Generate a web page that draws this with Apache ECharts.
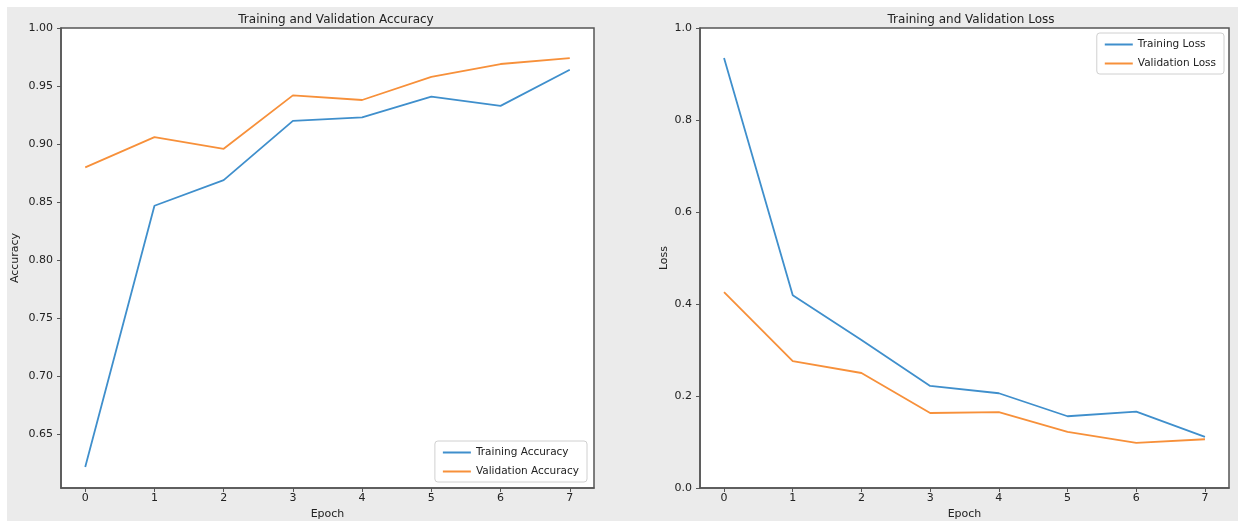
<!DOCTYPE html>
<html>
<head>
<meta charset="utf-8">
<script src="https://cdn.jsdelivr.net/npm/echarts@6/dist/echarts.min.js"></script>
<style>
    html, body { margin: 0; padding: 0; background: #ffffff; }
    #chart { position: absolute; left: 7px; top: 7px; width: 1231px; height: 514px; background: #ebebeb; }
</style>
</head>
<body>
<div id="chart"></div>
<script>
const epochs = [0, 1, 2, 3, 4, 5, 6, 7];
const trainAcc = [0.622, 0.847, 0.869, 0.920, 0.923, 0.941, 0.933, 0.964];
const valAcc = [0.880, 0.906, 0.896, 0.942, 0.938, 0.958, 0.969, 0.974];
const trainLoss = [0.935, 0.419, 0.322, 0.222, 0.206, 0.156, 0.166, 0.111];
const valLoss = [0.426, 0.276, 0.250, 0.163, 0.165, 0.122, 0.098, 0.106];
const accTicks = [0.65, 0.70, 0.75, 0.80, 0.85, 0.90, 0.95, 1.00];
const lossTicks = [0.0, 0.2, 0.4, 0.6, 0.8, 1.0];

const blue = '#3f8fcc';
const orange = '#f7903a';
const axisColor = '#555555';
const textColor = '#222222';
const font = 'DejaVu Sans';

function pairs(xs, ys) {
    return xs.map((x, i) => [x, ys[i]]);
}

function xAxisOf(gridIndex) {
    return {
        type: 'value',
        gridIndex: gridIndex,
        min: -0.35,
        max: 7.35,
        name: 'Epoch',
        nameLocation: 'middle',
        nameGap: 20,
        nameTextStyle: { fontFamily: font, fontSize: 11, color: textColor },
        axisLine: { show: true, onZero: false, lineStyle: { color: axisColor, width: 1.5 } },
        axisTick: { show: true, customValues: epochs, length: 4, lineStyle: { color: axisColor } },
        axisLabel: { customValues: epochs, fontFamily: font, fontSize: 11, color: textColor, margin: 5 },
        splitLine: { show: false }
    };
}

function yAxisOf(gridIndex, name, min, max, ticks, digits, gap) {
    return {
        type: 'value',
        gridIndex: gridIndex,
        min: min,
        max: max,
        name: name,
        nameLocation: 'middle',
        nameGap: gap,
        nameTextStyle: { fontFamily: font, fontSize: 11, color: textColor },
        axisLine: { show: true, onZero: false, lineStyle: { color: axisColor, width: 1.5 } },
        axisTick: { show: true, customValues: ticks, length: 4, lineStyle: { color: axisColor } },
        axisLabel: {
            customValues: ticks,
            fontFamily: font, fontSize: 11, color: textColor, margin: 8,
            formatter: v => v.toFixed(digits)
        },
        splitLine: { show: false }
    };
}

function lineOf(name, xi, yi, data, color) {
    return {
        name: name,
        type: 'line',
        xAxisIndex: xi,
        yAxisIndex: yi,
        data: data,
        showSymbol: false,
        symbol: 'none',
        lineStyle: { color: color, width: 1.8 },
        itemStyle: { color: color },
        animation: false
    };
}

const legendBase = {
    orient: 'vertical',
    icon: 'rect',
    itemWidth: 28,
    itemHeight: 2,
    itemGap: 8,
    padding: [6, 8, 5, 8],
    backgroundColor: '#ffffff',
    borderColor: '#d0d0d0',
    borderWidth: 1,
    borderRadius: 3,
    textStyle: { fontFamily: font, fontSize: 10.5, color: textColor }
};

let chart = echarts.init(document.getElementById('chart'));
chart.setOption({
    animation: false,
    title: [{
        text: 'Training and Validation Accuracy',
        left: 324,
        top: 2,
        textAlign: 'center',
        textStyle: { fontFamily: font, fontSize: 12, fontWeight: 'normal', color: textColor }
    }, {
        text: 'Training and Validation Loss',
        left: 959,
        top: 2,
        textAlign: 'center',
        textStyle: { fontFamily: font, fontSize: 12, fontWeight: 'normal', color: textColor }
    }],
    legend: [Object.assign({}, legendBase, {
        data: ['Training Accuracy', 'Validation Accuracy'],
        right: 651,
        bottom: 39
    }), Object.assign({}, legendBase, {
        data: ['Training Loss', 'Validation Loss'],
        right: 14,
        top: 26
    })],
    grid: [{
        left: 54, right: 644, top: 21, bottom: 33,
        outerBoundsMode: 'none',
        show: true, backgroundColor: '#ffffff', borderColor: axisColor, borderWidth: 1.5
    }, {
        left: 693, right: 9, top: 21, bottom: 33,
        outerBoundsMode: 'none',
        show: true, backgroundColor: '#ffffff', borderColor: axisColor, borderWidth: 1.5
    }],
    xAxis: [xAxisOf(0), xAxisOf(1)],
    yAxis: [
        yAxisOf(0, 'Accuracy', 0.604, 1.0, accTicks, 2, 40),
        yAxisOf(1, 'Loss', 0, 1.0, lossTicks, 1, 30)
    ],
    series: [
        lineOf('Training Accuracy', 0, 0, pairs(epochs, trainAcc), blue),
        lineOf('Validation Accuracy', 0, 0, pairs(epochs, valAcc), orange),
        lineOf('Training Loss', 1, 1, pairs(epochs, trainLoss), blue),
        lineOf('Validation Loss', 1, 1, pairs(epochs, valLoss), orange)
    ]
});
</script>
</body>
</html>
